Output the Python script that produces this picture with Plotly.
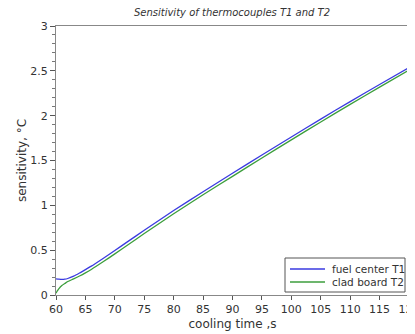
import plotly.graph_objects as go

time_t1 = [60, 60.5, 61, 61.5, 62, 63, 64, 65, 66, 68, 70, 72, 75, 80, 85, 90, 95, 100, 105, 110, 115, 120]
sens_t1 = [0.180, 0.176, 0.174, 0.176, 0.184, 0.210, 0.245, 0.283, 0.322, 0.408, 0.497, 0.587, 0.722,
           0.942, 1.152, 1.357, 1.562, 1.762, 1.962, 2.157, 2.347, 2.537]

time_t2 = [60, 60.25, 60.5, 61, 61.5, 62, 63, 64, 65, 66, 68, 70, 72, 75, 80, 85, 90, 95, 100, 105, 110, 115, 120]
sens_t2 = [0.02, 0.048, 0.072, 0.105, 0.128, 0.150, 0.180, 0.212, 0.247, 0.285, 0.370, 0.459, 0.549, 0.686,
           0.906, 1.118, 1.323, 1.528, 1.730, 1.930, 2.126, 2.318, 2.508]

series_names = ["fuel center T1", "clad board T2"]
series_colors = ["#3a3ae0", "#3c9e3c"]

x_ticks = list(range(60, 121, 5))
y_ticks = [0, 0.5, 1, 1.5, 2, 2.5, 3]
y_tick_labels = ["0", "0.5", "1", "1.5", "2", "2.5", "3"]

fig = go.Figure()
fig.add_trace(go.Scatter(x=time_t1, y=sens_t1, mode="lines", name=series_names[0],
                         line=dict(color=series_colors[0], width=1.3, shape="spline", smoothing=0.6)))
fig.add_trace(go.Scatter(x=time_t2, y=sens_t2, mode="lines", name=series_names[1],
                         line=dict(color=series_colors[1], width=1.3, shape="spline", smoothing=0.6)))

font = "DejaVu Sans"
# page body has an 8px margin, so the figure is sized to the remaining window
W, H = 407, 326
ml, mr, mt, mb = 48, 6, 18, 39
pw, ph = W - ml - mr, H - mt - mb

def px(x):
    return (x - ml) / pw

def py(y):
    return (H - mb - y) / ph

# manual legend (compact, like the reference)
shapes = [dict(type="rect", xref="paper", yref="paper", x0=px(277), x1=px(397), y0=py(284), y1=py(250),
               line=dict(color="#555555", width=1), fillcolor="white", layer="above")]
annotations = []
for i, (nm, col) in enumerate(zip(series_names, series_colors)):
    yy = 261 + 13 * i
    shapes.append(dict(type="line", xref="paper", yref="paper", x0=px(282), x1=px(317), y0=py(yy), y1=py(yy),
                       line=dict(color=col, width=1.3), layer="above"))
    annotations.append(dict(xref="paper", yref="paper", x=px(322), y=py(yy), xanchor="left", yanchor="middle",
                            text=nm, showarrow=False, font=dict(family=font, size=10.5, color="#333333")))

fig.update_layout(
    width=W, height=H,
    margin=dict(l=ml, r=mr, t=mt, b=mb),
    paper_bgcolor="white", plot_bgcolor="white",
    font=dict(family=font, size=11, color="#333333"),
    title=dict(text="<i>Sensitivity of thermocouples T1 and T2</i>", x=224 / W, xanchor="center",
               y=1 - 4 / H, yanchor="middle", font=dict(family=font, size=10, color="#333333")),
    showlegend=False,
    shapes=shapes, annotations=annotations,
)
fig.update_xaxes(range=[60, 120], tickvals=x_ticks, ticks="outside", ticklen=4, tickcolor="#555555",
                 showline=True, linecolor="#888888", linewidth=1, mirror=True, showgrid=False, zeroline=False,
                 automargin=False, ticklabeloverflow="allow",
                 title=dict(text="cooling time ,s", font=dict(family=font, size=12, color="#333333"), standoff=4),
                 tickfont=dict(size=11))
fig.update_yaxes(range=[0, 3], tickvals=y_ticks, ticktext=y_tick_labels, ticks="outside", ticklen=5,
                 tickcolor="#555555", showline=True, linecolor="#888888", linewidth=1, mirror=True,
                 showgrid=False, zeroline=False, automargin=False,
                 minor=dict(dtick=0.1, ticks="outside", ticklen=3, tickcolor="#777777", showgrid=False),
                 title=dict(text="sensitivity, °C", font=dict(family=font, size=12, color="#333333"), standoff=1),
                 tickfont=dict(size=11))

fig.write_html("out.html")
